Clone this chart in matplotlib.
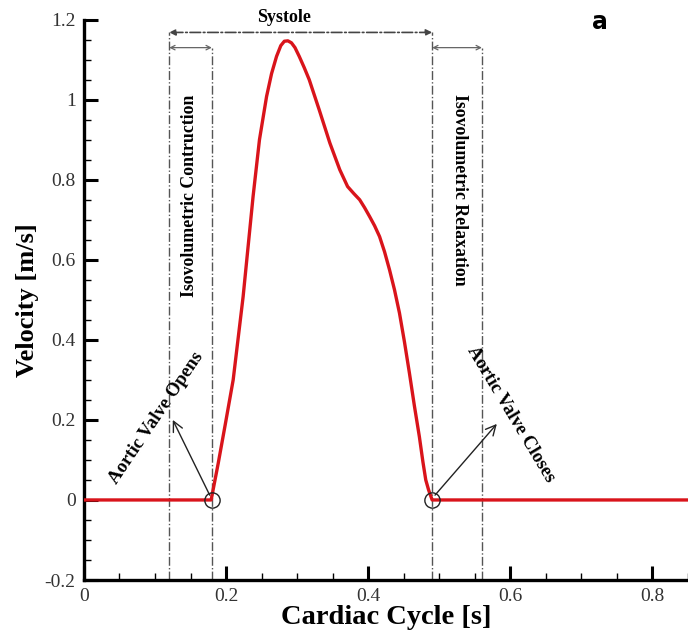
import matplotlib
matplotlib.use('Agg')
import matplotlib.pyplot as plt
from matplotlib.ticker import MultipleLocator, FormatStrFormatter

# velocity waveform
t_s = [0.0, 0.179, 0.189, 0.199, 0.21, 0.224, 0.238, 0.247, 0.257, 0.264,
       0.271, 0.277, 0.282, 0.287, 0.292, 0.297, 0.303, 0.31, 0.317, 0.331,
       0.346, 0.36, 0.371, 0.38, 0.388, 0.395, 0.402, 0.409, 0.416, 0.423,
       0.43, 0.437, 0.444, 0.451, 0.458, 0.465, 0.472, 0.477, 0.481, 0.485,
       0.488, 0.49, 0.85]
vel = [0.0, 0.0, 0.092, 0.19, 0.30, 0.508, 0.758, 0.90, 1.008, 1.065,
       1.108, 1.135, 1.146, 1.147, 1.142, 1.13, 1.108, 1.08, 1.05, 0.975,
       0.892, 0.825, 0.783, 0.765, 0.75, 0.73, 0.708, 0.685, 0.658, 0.62,
       0.575, 0.525, 0.467, 0.395, 0.317, 0.235, 0.158, 0.095, 0.05, 0.025,
       0.01, 0.0, 0.0]

valve_open = 0.18
valve_close = 0.49
ivc_start = 0.12
ivr_end = 0.56

fig = plt.figure(figsize=(6.88, 6.39), dpi=100)
ax = fig.add_axes([0.122, 0.0923, 0.878, 0.877])
plt.rcParams['font.family'] = ['Liberation Serif', 'DejaVu Serif']
serif = 'Liberation Serif'

ax.plot(t_s, vel, color='#d9141b', linewidth=2.4, zorder=3,
        solid_joinstyle='round')

# markers where the valve opens / closes
ax.plot([valve_open, valve_close], [0, 0], 'o', ms=11, mfc='none',
        mec='#222222', mew=1.0, zorder=4)

# phase boundaries
gcol = '#555555'
ax.plot([ivc_start, ivc_start], [-0.2, 1.168], color=gcol, lw=1.0, ls='-.')
ax.plot([valve_open, valve_open], [-0.2, 1.13], color=gcol, lw=1.0, ls='-.')
ax.plot([valve_close, valve_close], [-0.2, 1.168], color=gcol, lw=1.0, ls='-.')
ax.plot([ivr_end, ivr_end], [-0.2, 1.13], color=gcol, lw=1.0, ls='-.')

ax.annotate('', xy=(ivc_start, 1.168), xytext=(valve_close, 1.168),
            arrowprops=dict(arrowstyle='<|-|>', color='#444444', lw=1.2,
                            ls='-.', shrinkA=0, shrinkB=0, mutation_scale=9))
ax.annotate('', xy=(ivc_start, 1.13), xytext=(valve_open, 1.13),
            arrowprops=dict(arrowstyle='<->', color='#666666', lw=0.9,
                            shrinkA=0, shrinkB=0, mutation_scale=8))
ax.annotate('', xy=(valve_close, 1.13), xytext=(ivr_end, 1.13),
            arrowprops=dict(arrowstyle='<->', color='#666666', lw=0.9,
                            shrinkA=0, shrinkB=0, mutation_scale=8))

ax.text(0.282, 1.205, 'Systole', ha='center', va='center', fontsize=13,
        fontweight='bold', family=serif, clip_on=False)
ax.text(0.149, 0.76, 'Isovolumetric Contruction', rotation=90, ha='center',
        va='center', fontsize=12.8, fontweight='bold', family=serif)
ax.text(0.528, 0.775, 'Isovolumetric Relaxation', rotation=-90, ha='center',
        va='center', fontsize=12.8, fontweight='bold', family=serif)

# valve arrows
ax.annotate('', xy=(0.125, 0.2), xytext=(0.177, 0.012),
            arrowprops=dict(arrowstyle='->', color='#222222', lw=1.0,
                            shrinkA=0, shrinkB=0, mutation_scale=18))
ax.annotate('', xy=(0.581, 0.19), xytext=(0.494, 0.012),
            arrowprops=dict(arrowstyle='->', color='#222222', lw=1.0,
                            shrinkA=0, shrinkB=0, mutation_scale=18))
ax.text(0.102, 0.205, 'Aortic Valve Opens', rotation=56, ha='center',
        va='center', fontsize=13.5, fontweight='bold', family=serif)
ax.text(0.601, 0.215, 'Aortic Valve Closes', rotation=-59, ha='center',
        va='center', fontsize=13.5, fontweight='bold', family=serif)

ax.text(0.872, 0.965, 'a', transform=fig.transFigure, ha='center',
        va='center', fontsize=17, fontweight='bold', family='DejaVu Sans')

ax.set_xlim(0, 0.85)
ax.set_ylim(-0.2, 1.2)
ax.xaxis.set_major_locator(MultipleLocator(0.2))
ax.xaxis.set_minor_locator(MultipleLocator(0.05))
ax.yaxis.set_major_locator(MultipleLocator(0.2))
ax.yaxis.set_minor_locator(MultipleLocator(0.05))
ax.xaxis.set_major_formatter(FormatStrFormatter('%g'))
ax.yaxis.set_major_formatter(FormatStrFormatter('%g'))
ax.tick_params(which='major', direction='in', length=10, width=2.2,
               labelsize=14, pad=6)
ax.tick_params(which='minor', direction='in', length=5, width=1.0)
for lab in ax.get_xticklabels() + ax.get_yticklabels():
    lab.set_family(serif)
    lab.set_color('#333333')

for side in ['top', 'right']:
    ax.spines[side].set_visible(False)
for side in ['left', 'bottom']:
    ax.spines[side].set_linewidth(2.4)

ax.set_xlabel('Cardiac Cycle [s]', fontsize=20.5, fontweight='bold',
              family=serif, labelpad=0)
ax.set_ylabel('Velocity [m/s]', fontsize=19, fontweight='bold',
              family=serif, labelpad=4)

fig.savefig('out.png', dpi=100)
